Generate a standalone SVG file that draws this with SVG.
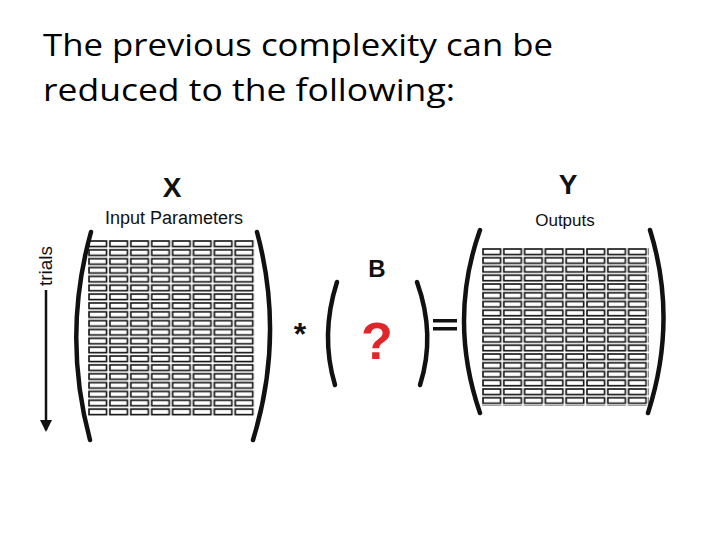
<svg xmlns="http://www.w3.org/2000/svg" width="720" height="540" viewBox="0 0 720 540">
<style>
.t{font-family:"Open Sans","Liberation Sans",sans-serif;font-size:31px;fill:#000}
.s{font-family:"Liberation Sans",Arial,sans-serif;fill:#111}
.b{font-weight:bold}
.br{fill:none;stroke:#111;stroke-width:4.5;stroke-linecap:round}
</style>
<defs>
<pattern id="cx" x="88" y="240" width="20.9" height="8.85" patternUnits="userSpaceOnUse">
<rect x="1" y="1" width="17.5" height="5.5" fill="#fff" stroke="#111" stroke-width="1.6"/>
</pattern>
<pattern id="cy" x="482" y="248" width="20.8" height="8.75" patternUnits="userSpaceOnUse">
<rect x="1" y="1" width="17.5" height="5.5" fill="#fff" stroke="#111" stroke-width="1.6"/>
</pattern>
<marker id="ah" markerWidth="12" markerHeight="12" refX="6" refY="10" orient="0" markerUnits="userSpaceOnUse">
<path d="M0,0 L12,0 L6,12 z" fill="#111"/>
</marker>
</defs>
<rect width="720" height="540" fill="#fff"/>
<text class="t" x="43" y="56" textLength="510" lengthAdjust="spacingAndGlyphs">The previous complexity can be</text>
<text class="t" x="43" y="101" textLength="412" lengthAdjust="spacingAndGlyphs">reduced to the following:</text>
<g id="X">
<text class="s b" x="172" y="197" font-size="28" text-anchor="middle">X</text>
<text class="s" x="174" y="224" font-size="18" text-anchor="middle">Input Parameters</text>
<rect x="88" y="240" width="167" height="177" fill="url(#cx)"/>
<path class="br" d="M91,232 Q62,336 90,440"/>
<path class="br" d="M257,232 Q285,336 253,440"/>
</g>
<g id="trials">
<text class="s" transform="translate(52,266) rotate(-90)" font-size="19" text-anchor="middle">trials</text>
</g>
<g id="B">
<text class="s b" x="377" y="277" font-size="24" text-anchor="middle">B</text>
<text x="377" y="359" font-family="Liberation Sans,Arial,sans-serif" font-weight="bold" font-size="52" fill="#e0262b" text-anchor="middle">?</text>
<path class="br" d="M337,282 Q320,335 335,385"/>
<path class="br" d="M417,282 Q436,335 420,385"/>
</g>
<g id="Y">
<text class="s b" x="568" y="194" font-size="28" text-anchor="middle">Y</text>
<text class="s" x="565" y="226" font-size="17" text-anchor="middle">Outputs</text>
<rect x="482" y="248" width="167" height="158" fill="url(#cy)"/>
<path class="br" d="M480,230 Q448,320 480,413"/>
<path class="br" d="M650,230 Q678,320 648,413"/>
</g>
<g id="connectors">
<line x1="46" y1="290" x2="46" y2="430" stroke="#111" stroke-width="2.5" marker-end="url(#ah)"/>
<text class="s b" x="300" y="345" font-size="32" text-anchor="middle">*</text>
<rect x="433" y="319" width="24" height="3.5" fill="#111"/>
<rect x="433" y="327" width="24" height="3.5" fill="#111"/>
</g>
</svg>
